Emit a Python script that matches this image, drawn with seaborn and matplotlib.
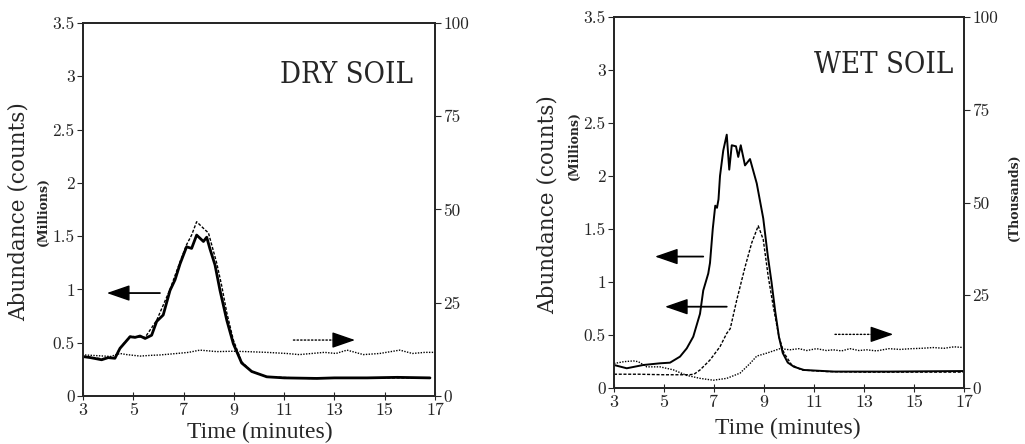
import matplotlib
matplotlib.use("Agg")
import matplotlib.pyplot as plt
import seaborn as sns

# Dry soil, left axis (millions)
dry_t_solid = [3.0, 3.3, 3.74, 4.0, 4.27, 4.47, 4.87, 5.07, 5.27, 5.47, 5.73, 5.93, 6.19, 6.46,
               6.66, 6.86, 7.12, 7.32, 7.52, 7.79, 7.92, 8.05, 8.25, 8.45, 8.72, 8.98, 9.31,
               9.71, 10.31, 11.0, 12.3, 13.0, 14.3, 15.5, 16.8]
dry_v_solid = [0.37, 0.36, 0.34, 0.36, 0.354, 0.447, 0.556, 0.55, 0.563, 0.54, 0.57, 0.70, 0.76, 0.99,
               1.09, 1.24, 1.40, 1.385, 1.51, 1.45, 1.49, 1.38, 1.23, 0.99, 0.71, 0.49, 0.31,
               0.23, 0.18, 0.17, 0.165, 0.17, 0.17, 0.175, 0.17]
dry_t_dash = [3.0, 3.74, 4.27, 4.47, 4.87, 5.47, 5.93, 6.46, 6.86, 7.12, 7.32, 7.52, 7.85, 7.99,
              8.32, 8.52, 8.72, 8.98, 9.31, 9.71, 10.31, 12.0, 14.0, 16.8]
dry_v_dash = [0.37, 0.35, 0.36, 0.45, 0.56, 0.55, 0.71, 1.00, 1.26, 1.42, 1.51, 1.635, 1.56, 1.53,
              1.245, 1.03, 0.78, 0.525, 0.32, 0.23, 0.18, 0.165, 0.17, 0.17]
# Dry soil, right axis (thousands)
dry_t_dot = [3.08, 3.6, 4.1, 4.47, 4.74, 5.27, 5.7, 6.06, 6.73, 7.2, 7.65, 8.32, 8.98, 9.51,
             10.3, 11.1, 11.6, 12.1, 12.6, 13.06, 13.5, 14.15, 14.8, 15.6, 16.1, 16.6, 17.0]
dry_k_dot = [11.0, 10.8, 10.6, 11.4, 11.1, 10.7, 10.9, 11.0, 11.4, 11.7, 12.3, 11.9, 12.0, 11.9,
             11.7, 11.4, 11.1, 11.4, 11.7, 11.4, 12.3, 11.1, 11.4, 12.3, 11.4, 11.7, 11.7]

# Wet soil, left axis (millions)
wet_t_solid = [3.0, 3.51, 4.17, 4.84, 5.24, 5.64, 5.91, 6.17, 6.44, 6.57, 6.77, 6.84, 6.95, 7.05,
               7.12, 7.18, 7.24, 7.37, 7.51, 7.61, 7.71, 7.88, 7.97, 8.07, 8.24, 8.44, 8.71,
               8.97, 9.15, 9.3, 9.45, 9.6, 9.75, 9.95, 10.2, 10.6, 11.8, 14.0, 17.0]
wet_v_solid = [0.217, 0.186, 0.217, 0.233, 0.239, 0.296, 0.374, 0.484, 0.70, 0.92, 1.08, 1.18, 1.5, 1.72,
               1.70, 1.78, 2.0, 2.24, 2.39, 2.06, 2.29, 2.28, 2.18, 2.29, 2.10, 2.16, 1.93,
               1.60, 1.25, 1.0, 0.72, 0.48, 0.33, 0.24, 0.20, 0.17, 0.155, 0.155, 0.16]
wet_t_dash = [3.0, 4.0, 5.0, 6.0, 6.2, 6.44, 6.84, 7.24, 7.51, 7.65, 7.91, 8.24, 8.51, 8.77,
              8.97, 9.17, 9.37, 9.6, 9.8, 10.1, 10.5, 11.5, 13.0, 15.0, 17.0]
wet_v_dash = [0.13, 0.13, 0.125, 0.125, 0.13, 0.17, 0.264, 0.39, 0.516, 0.56, 0.83, 1.14, 1.37, 1.53,
              1.40, 1.05, 0.77, 0.48, 0.33, 0.22, 0.17, 0.155, 0.15, 0.15, 0.15]
# Wet soil, right axis (thousands)
wet_t_dot = [3.0, 3.4, 3.77, 3.97, 4.31, 4.84, 5.37, 5.91, 6.44, 6.97, 7.51, 8.04, 8.44, 8.71,
             9.11, 9.64, 10.04, 10.4, 10.71, 11.1, 11.5, 11.77, 12.1, 12.44, 12.8, 13.1, 13.5,
             14.0, 14.44, 14.9, 15.3, 15.77, 16.2, 16.6, 17.0]
wet_k_dot = [6.6, 7.1, 7.3, 7.1, 5.7, 5.7, 4.9, 3.4, 2.6, 2.1, 2.6, 4.0, 6.6, 8.6,
             9.4, 10.6, 10.3, 10.6, 10.1, 10.6, 10.1, 10.3, 10.0, 10.6, 10.1, 10.3, 10.0,
             10.6, 10.4, 10.6, 10.7, 10.9, 10.7, 11.1, 10.9]

x_ticks = [3, 5, 7, 9, 11, 13, 15, 17]
left_ticks = [0, 0.5, 1, 1.5, 2, 2.5, 3, 3.5]
left_labels = ["0", "0.5", "1", "1.5", "2", "2.5", "3", "3.5"]
right_ticks = [0, 25, 50, 75, 100]

sns.set_style("ticks")
plt.rcParams['font.family'] = ['cmr10', 'DejaVu Serif']
plt.rcParams['axes.formatter.use_mathtext'] = True

W, H = 1025, 444
fig = plt.figure(figsize=(W / 100, H / 100), dpi=100)


def px(x, y):
    return x / W, 1 - y / H


def panel(rect, t_solid, v_solid, lw_solid, t_dash, v_dash, t_dot, k_dot):
    ax = fig.add_axes(rect)
    sns.lineplot(x=t_solid, y=v_solid, ax=ax, color='black', lw=lw_solid, estimator=None)
    sns.lineplot(x=t_dash, y=v_dash, ax=ax, color='black', lw=1.0, estimator=None,
                 linestyle=(0, (2.2, 1.2)))
    ax.set_xlim(3, 17)
    ax.set_ylim(0, 3.5)
    ax.set_xticks(x_ticks)
    ax.set_xticklabels([str(t) for t in x_ticks])
    ax.set_yticks(left_ticks)
    ax.set_yticklabels(left_labels)
    ax.tick_params(axis='x', direction='inout', length=6, pad=2, labelsize=13)
    ax.tick_params(axis='y', direction='out', length=4, pad=2, labelsize=12.5)
    ax2 = ax.twinx()
    sns.lineplot(x=t_dot, y=k_dot, ax=ax2, color='black', lw=1.0, estimator=None,
                 linestyle=(0, (1, 1)))
    ax2.set_ylim(0, 100)
    ax2.set_yticks(right_ticks)
    ax2.set_yticklabels([str(t) for t in right_ticks])
    ax2.tick_params(axis='y', direction='out', length=4, pad=2, labelsize=12.5)
    for a in (ax, ax2):
        a.set_xlabel('')
        a.set_ylabel('')
        for s in a.spines.values():
            s.set_linewidth(1.3)
    return ax


def arrow(ax, tail, head, dotted=False):
    # shaft, then a short solid filled head
    span = head[0] - tail[0]
    base = (head[0] - 0.55 * (1 if span > 0 else -1), head[1])
    ax.annotate('', xy=base, xytext=tail,
                arrowprops=dict(arrowstyle='-', color='black',
                                lw=1.0 if dotted else 1.3,
                                linestyle=(0, (1, 1.6)) if dotted else '-',
                                shrinkA=0, shrinkB=0))
    ax.annotate('', xy=head, xytext=base,
                arrowprops=dict(arrowstyle='-|>,head_length=1.3,head_width=0.45',
                                mutation_scale=11, color='black', lw=1.0,
                                shrinkA=0, shrinkB=0))


ax_dry = panel([83 / W, 1 - 396 / H, 352 / W, 373 / H],
               dry_t_solid, dry_v_solid, 2.0, dry_t_dash, dry_v_dash, dry_t_dot, dry_k_dot)
ax_wet = panel([614 / W, 1 - 388 / H, 350 / W, 371 / H],
               wet_t_solid, wet_v_solid, 1.4, wet_t_dash, wet_v_dash, wet_t_dot, wet_k_dot)

arrow(ax_dry, (6.06, 0.966), (3.95, 0.966))
arrow(ax_dry, (11.37, 0.525), (13.82, 0.525), dotted=True)
arrow(ax_wet, (6.57, 1.24), (4.64, 1.24))
arrow(ax_wet, (7.51, 0.767), (5.04, 0.767))
arrow(ax_wet, (11.84, 0.506), (14.17, 0.506), dotted=True)

serif = ['DejaVu Serif']
fig.text(*px(19, 212), 'Abundance (counts)', rotation=90, ha='center', va='center',
         family=serif, fontsize=15.5)
fig.text(*px(43, 211), '(Millions)', rotation=90, ha='center', va='center',
         family=serif, fontsize=9, weight='bold')
fig.text(*px(260, 432), 'Time (minutes)', ha='center', va='center',
         family=['Liberation Serif'], fontsize=17)
fig.text(*px(346, 75), 'DRY SOIL', ha='center', va='center',
         family=serif, fontstretch='condensed', fontsize=21)

fig.text(*px(548, 205), 'Abundance (counts)', rotation=90, ha='center', va='center',
         family=serif, fontsize=15.5)
fig.text(*px(574, 145), '(Millions)', rotation=90, ha='center', va='center',
         family=serif, fontsize=9, weight='bold')
fig.text(*px(1014, 197), '(Thousands)', rotation=90, ha='center', va='center',
         family=serif, fontsize=9, weight='bold')
fig.text(*px(788, 428), 'Time (minutes)', ha='center', va='center',
         family=['Liberation Serif'], fontsize=17)
fig.text(*px(884, 65), 'WET SOIL', ha='center', va='center',
         family=serif, fontstretch='condensed', fontsize=21)

fig.savefig('out.png', dpi=100)
